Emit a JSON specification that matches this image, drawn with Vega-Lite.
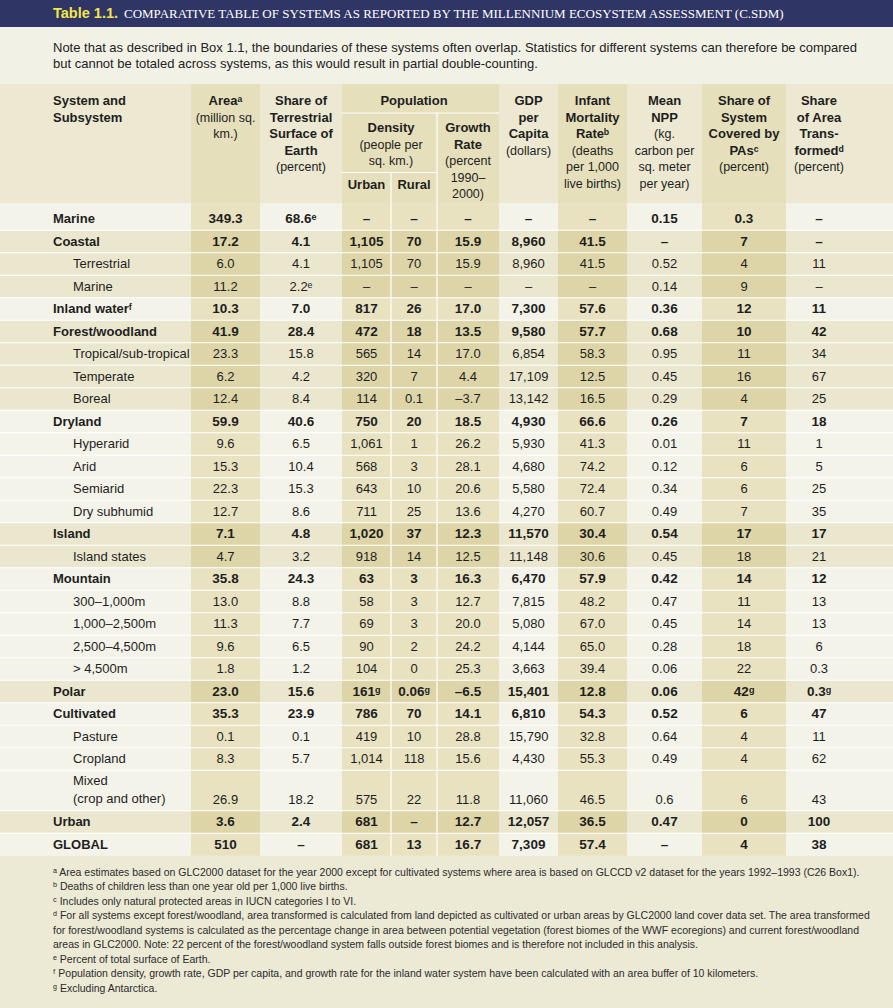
{
  "$schema": "https://vega.github.io/schema/vega-lite/v6.json",
  "width": 893,
  "height": 1008,
  "padding": 0,
  "autosize": {"type": "none"},
  "background": "#f2f1e6",
  "config": {"view": {"stroke": null}},
  "datasets": {
    "rows": [
      {"sys": "Marine", "grp": "Marine", "lvl": "main", "area": "349.3", "share": "68.6ᵉ", "urban": "–", "rural": "–", "growth": "–", "gdp": "–", "infant": "–", "npp": "0.15", "pas": "0.3", "trans": "–"},
      {"sys": "Coastal", "grp": "Coastal", "lvl": "main", "area": "17.2", "share": "4.1", "urban": "1,105", "rural": "70", "growth": "15.9", "gdp": "8,960", "infant": "41.5", "npp": "–", "pas": "7", "trans": "–"},
      {"sys": "Terrestrial", "grp": "Coastal", "lvl": "sub", "area": "6.0", "share": "4.1", "urban": "1,105", "rural": "70", "growth": "15.9", "gdp": "8,960", "infant": "41.5", "npp": "0.52", "pas": "4", "trans": "11"},
      {"sys": "Marine", "grp": "Coastal", "lvl": "sub", "area": "11.2", "share": "2.2ᵉ", "urban": "–", "rural": "–", "growth": "–", "gdp": "–", "infant": "–", "npp": "0.14", "pas": "9", "trans": "–"},
      {"sys": "Inland waterᶠ", "grp": "Inland water", "lvl": "main", "area": "10.3", "share": "7.0", "urban": "817", "rural": "26", "growth": "17.0", "gdp": "7,300", "infant": "57.6", "npp": "0.36", "pas": "12", "trans": "11"},
      {"sys": "Forest/woodland", "grp": "Forest/woodland", "lvl": "main", "area": "41.9", "share": "28.4", "urban": "472", "rural": "18", "growth": "13.5", "gdp": "9,580", "infant": "57.7", "npp": "0.68", "pas": "10", "trans": "42"},
      {"sys": "Tropical/sub-tropical", "grp": "Forest/woodland", "lvl": "sub", "area": "23.3", "share": "15.8", "urban": "565", "rural": "14", "growth": "17.0", "gdp": "6,854", "infant": "58.3", "npp": "0.95", "pas": "11", "trans": "34"},
      {"sys": "Temperate", "grp": "Forest/woodland", "lvl": "sub", "area": "6.2", "share": "4.2", "urban": "320", "rural": "7", "growth": "4.4", "gdp": "17,109", "infant": "12.5", "npp": "0.45", "pas": "16", "trans": "67"},
      {"sys": "Boreal", "grp": "Forest/woodland", "lvl": "sub", "area": "12.4", "share": "8.4", "urban": "114", "rural": "0.1", "growth": "–3.7", "gdp": "13,142", "infant": "16.5", "npp": "0.29", "pas": "4", "trans": "25"},
      {"sys": "Dryland", "grp": "Dryland", "lvl": "main", "area": "59.9", "share": "40.6", "urban": "750", "rural": "20", "growth": "18.5", "gdp": "4,930", "infant": "66.6", "npp": "0.26", "pas": "7", "trans": "18"},
      {"sys": "Hyperarid", "grp": "Dryland", "lvl": "sub", "area": "9.6", "share": "6.5", "urban": "1,061", "rural": "1", "growth": "26.2", "gdp": "5,930", "infant": "41.3", "npp": "0.01", "pas": "11", "trans": "1"},
      {"sys": "Arid", "grp": "Dryland", "lvl": "sub", "area": "15.3", "share": "10.4", "urban": "568", "rural": "3", "growth": "28.1", "gdp": "4,680", "infant": "74.2", "npp": "0.12", "pas": "6", "trans": "5"},
      {"sys": "Semiarid", "grp": "Dryland", "lvl": "sub", "area": "22.3", "share": "15.3", "urban": "643", "rural": "10", "growth": "20.6", "gdp": "5,580", "infant": "72.4", "npp": "0.34", "pas": "6", "trans": "25"},
      {"sys": "Dry subhumid", "grp": "Dryland", "lvl": "sub", "area": "12.7", "share": "8.6", "urban": "711", "rural": "25", "growth": "13.6", "gdp": "4,270", "infant": "60.7", "npp": "0.49", "pas": "7", "trans": "35"},
      {"sys": "Island", "grp": "Island", "lvl": "main", "area": "7.1", "share": "4.8", "urban": "1,020", "rural": "37", "growth": "12.3", "gdp": "11,570", "infant": "30.4", "npp": "0.54", "pas": "17", "trans": "17"},
      {"sys": "Island states", "grp": "Island", "lvl": "sub", "area": "4.7", "share": "3.2", "urban": "918", "rural": "14", "growth": "12.5", "gdp": "11,148", "infant": "30.6", "npp": "0.45", "pas": "18", "trans": "21"},
      {"sys": "Mountain", "grp": "Mountain", "lvl": "main", "area": "35.8", "share": "24.3", "urban": "63", "rural": "3", "growth": "16.3", "gdp": "6,470", "infant": "57.9", "npp": "0.42", "pas": "14", "trans": "12"},
      {"sys": "300–1,000m", "grp": "Mountain", "lvl": "sub", "area": "13.0", "share": "8.8", "urban": "58", "rural": "3", "growth": "12.7", "gdp": "7,815", "infant": "48.2", "npp": "0.47", "pas": "11", "trans": "13"},
      {"sys": "1,000–2,500m", "grp": "Mountain", "lvl": "sub", "area": "11.3", "share": "7.7", "urban": "69", "rural": "3", "growth": "20.0", "gdp": "5,080", "infant": "67.0", "npp": "0.45", "pas": "14", "trans": "13"},
      {"sys": "2,500–4,500m", "grp": "Mountain", "lvl": "sub", "area": "9.6", "share": "6.5", "urban": "90", "rural": "2", "growth": "24.2", "gdp": "4,144", "infant": "65.0", "npp": "0.28", "pas": "18", "trans": "6"},
      {"sys": "> 4,500m", "grp": "Mountain", "lvl": "sub", "area": "1.8", "share": "1.2", "urban": "104", "rural": "0", "growth": "25.3", "gdp": "3,663", "infant": "39.4", "npp": "0.06", "pas": "22", "trans": "0.3"},
      {"sys": "Polar", "grp": "Polar", "lvl": "main", "area": "23.0", "share": "15.6", "urban": "161ᵍ", "rural": "0.06ᵍ", "growth": "–6.5", "gdp": "15,401", "infant": "12.8", "npp": "0.06", "pas": "42ᵍ", "trans": "0.3ᵍ"},
      {"sys": "Cultivated", "grp": "Cultivated", "lvl": "main", "area": "35.3", "share": "23.9", "urban": "786", "rural": "70", "growth": "14.1", "gdp": "6,810", "infant": "54.3", "npp": "0.52", "pas": "6", "trans": "47"},
      {"sys": "Pasture", "grp": "Cultivated", "lvl": "sub", "area": "0.1", "share": "0.1", "urban": "419", "rural": "10", "growth": "28.8", "gdp": "15,790", "infant": "32.8", "npp": "0.64", "pas": "4", "trans": "11"},
      {"sys": "Cropland", "grp": "Cultivated", "lvl": "sub", "area": "8.3", "share": "5.7", "urban": "1,014", "rural": "118", "growth": "15.6", "gdp": "4,430", "infant": "55.3", "npp": "0.49", "pas": "4", "trans": "62"},
      {"sys": "Mixed\n(crop and other)", "grp": "Cultivated", "lvl": "sub", "area": "26.9", "share": "18.2", "urban": "575", "rural": "22", "growth": "11.8", "gdp": "11,060", "infant": "46.5", "npp": "0.6", "pas": "6", "trans": "43"},
      {"sys": "Urban", "grp": "Urban", "lvl": "main", "area": "3.6", "share": "2.4", "urban": "681", "rural": "–", "growth": "12.7", "gdp": "12,057", "infant": "36.5", "npp": "0.47", "pas": "0", "trans": "100"},
      {"sys": "GLOBAL", "grp": "GLOBAL", "lvl": "main", "area": "510", "share": "–", "urban": "681", "rural": "13", "growth": "16.7", "gdp": "7,309", "infant": "57.4", "npp": "–", "pas": "4", "trans": "38"}
    ],
    "cols": [
      {"key": "area", "k": 3, "shade": 1},
      {"key": "share", "k": 4, "shade": 0},
      {"key": "urban", "k": 5, "shade": 1},
      {"key": "rural", "k": 6, "shade": 1},
      {"key": "growth", "k": 7, "shade": 1},
      {"key": "gdp", "k": 8, "shade": 0},
      {"key": "infant", "k": 9, "shade": 1},
      {"key": "npp", "k": 10, "shade": 0},
      {"key": "pas", "k": 11, "shade": 1},
      {"key": "trans", "k": 12, "shade": 0}
    ],
    "sections": [
      {"sec": "title", "s": -3},
      {"sec": "header", "s": -1},
      {"sec": "foot", "s": 28}
    ],
    "grid": [
      {"c0": 5, "c1": 8, "r0": -0.75, "r1": -0.75},
      {"c0": 5, "c1": 7, "r0": -0.25, "r1": -0.25},
      {"c0": 7, "c1": 7, "r0": -0.75, "r1": 28},
      {"c0": 6, "c1": 6, "r0": -0.25, "r1": 28}
    ],
    "title": [
      {"part": 1, "txt": "Table 1.1."},
      {"part": 2, "txt": "COMPARATIVE TABLE OF SYSTEMS AS REPORTED BY THE MILLENNIUM ECOSYSTEM ASSESSMENT (C.SDM)"}
    ],
    "note": [
      {"txt": "Note that as described in Box 1.1, the boundaries of these systems often overlap. Statistics for different systems can therefore be compared\nbut cannot be totaled across systems, as this would result in partial double-counting."}
    ],
    "foot": [
      {"txt": "ᵃ Area estimates based on GLC2000 dataset for the year 2000 except for cultivated systems where area is based on GLCCD v2 dataset for the years 1992–1993 (C26 Box1).\nᵇ Deaths of children less than one year old per 1,000 live births.\nᶜ Includes only natural protected areas in IUCN categories I to VI.\nᵈ For all systems except forest/woodland, area transformed is calculated from land depicted as cultivated or urban areas by GLC2000 land cover data set. The area transformed\n\u00a0\u00a0for forest/woodland systems is calculated as the percentage change in area between potential vegetation (forest biomes of the WWF ecoregions) and current forest/woodland\n\u00a0\u00a0areas in GLC2000. Note: 22 percent of the forest/woodland system falls outside forest biomes and is therefore not included in this analysis.\nᵉ Percent of total surface of Earth.\nᶠ Population density, growth rate, GDP per capita, and growth rate for the inland water system have been calculated with an area buffer of 10 kilometers.\nᵍ Excluding Antarctica."}
    ],
    "hdr": [
      {"t": 0, "ln": 0, "c0": 1, "c1": 1, "txt": "System and", "b": 1, "sys": 1},
      {"t": 0, "ln": 1, "c0": 1, "c1": 1, "txt": "Subsystem", "b": 1, "sys": 1},
      {"t": 0, "ln": 0, "c0": 3, "c1": 4, "txt": "Areaᵃ", "b": 1, "sys": 0},
      {"t": 0, "ln": 1, "c0": 3, "c1": 4, "txt": "(million sq.", "b": 0, "sys": 0},
      {"t": 0, "ln": 2, "c0": 3, "c1": 4, "txt": "km.)", "b": 0, "sys": 0},
      {"t": 0, "ln": 0, "c0": 4, "c1": 5, "txt": "Share of", "b": 1, "sys": 0},
      {"t": 0, "ln": 1, "c0": 4, "c1": 5, "txt": "Terrestrial", "b": 1, "sys": 0},
      {"t": 0, "ln": 2, "c0": 4, "c1": 5, "txt": "Surface of", "b": 1, "sys": 0},
      {"t": 0, "ln": 3, "c0": 4, "c1": 5, "txt": "Earth", "b": 1, "sys": 0},
      {"t": 0, "ln": 4, "c0": 4, "c1": 5, "txt": "(percent)", "b": 0, "sys": 0},
      {"t": 0, "ln": 0, "c0": 5, "c1": 8, "txt": "Population", "b": 1, "sys": 0},
      {"t": 1, "ln": 0, "c0": 5, "c1": 7, "txt": "Density", "b": 1, "sys": 0},
      {"t": 1, "ln": 1, "c0": 5, "c1": 7, "txt": "(people per", "b": 0, "sys": 0},
      {"t": 1, "ln": 2, "c0": 5, "c1": 7, "txt": "sq. km.)", "b": 0, "sys": 0},
      {"t": 1, "ln": 0, "c0": 7, "c1": 8, "txt": "Growth", "b": 1, "sys": 0},
      {"t": 1, "ln": 1, "c0": 7, "c1": 8, "txt": "Rate", "b": 1, "sys": 0},
      {"t": 1, "ln": 2, "c0": 7, "c1": 8, "txt": "(percent", "b": 0, "sys": 0},
      {"t": 1, "ln": 3, "c0": 7, "c1": 8, "txt": "1990–", "b": 0, "sys": 0},
      {"t": 1, "ln": 4, "c0": 7, "c1": 8, "txt": "2000)", "b": 0, "sys": 0},
      {"t": 2, "ln": 0, "c0": 5, "c1": 6, "txt": "Urban", "b": 1, "sys": 0},
      {"t": 2, "ln": 0, "c0": 6, "c1": 7, "txt": "Rural", "b": 1, "sys": 0},
      {"t": 0, "ln": 0, "c0": 8, "c1": 9, "txt": "GDP", "b": 1, "sys": 0},
      {"t": 0, "ln": 1, "c0": 8, "c1": 9, "txt": "per", "b": 1, "sys": 0},
      {"t": 0, "ln": 2, "c0": 8, "c1": 9, "txt": "Capita", "b": 1, "sys": 0},
      {"t": 0, "ln": 3, "c0": 8, "c1": 9, "txt": "(dollars)", "b": 0, "sys": 0},
      {"t": 0, "ln": 0, "c0": 9, "c1": 10, "txt": "Infant", "b": 1, "sys": 0},
      {"t": 0, "ln": 1, "c0": 9, "c1": 10, "txt": "Mortality", "b": 1, "sys": 0},
      {"t": 0, "ln": 2, "c0": 9, "c1": 10, "txt": "Rateᵇ", "b": 1, "sys": 0},
      {"t": 0, "ln": 3, "c0": 9, "c1": 10, "txt": "(deaths", "b": 0, "sys": 0},
      {"t": 0, "ln": 4, "c0": 9, "c1": 10, "txt": "per 1,000", "b": 0, "sys": 0},
      {"t": 0, "ln": 5, "c0": 9, "c1": 10, "txt": "live births)", "b": 0, "sys": 0},
      {"t": 0, "ln": 0, "c0": 10, "c1": 11, "txt": "Mean", "b": 1, "sys": 0},
      {"t": 0, "ln": 1, "c0": 10, "c1": 11, "txt": "NPP", "b": 1, "sys": 0},
      {"t": 0, "ln": 2, "c0": 10, "c1": 11, "txt": "(kg.", "b": 0, "sys": 0},
      {"t": 0, "ln": 3, "c0": 10, "c1": 11, "txt": "carbon per", "b": 0, "sys": 0},
      {"t": 0, "ln": 4, "c0": 10, "c1": 11, "txt": "sq. meter", "b": 0, "sys": 0},
      {"t": 0, "ln": 5, "c0": 10, "c1": 11, "txt": "per year)", "b": 0, "sys": 0},
      {"t": 0, "ln": 0, "c0": 11, "c1": 12, "txt": "Share of", "b": 1, "sys": 0},
      {"t": 0, "ln": 1, "c0": 11, "c1": 12, "txt": "System", "b": 1, "sys": 0},
      {"t": 0, "ln": 2, "c0": 11, "c1": 12, "txt": "Covered by", "b": 1, "sys": 0},
      {"t": 0, "ln": 3, "c0": 11, "c1": 12, "txt": "PAsᶜ", "b": 1, "sys": 0},
      {"t": 0, "ln": 4, "c0": 11, "c1": 12, "txt": "(percent)", "b": 0, "sys": 0},
      {"t": 0, "ln": 0, "c0": 12, "c1": 13, "txt": "Share", "b": 1, "sys": 0},
      {"t": 0, "ln": 1, "c0": 12, "c1": 13, "txt": "of Area", "b": 1, "sys": 0},
      {"t": 0, "ln": 2, "c0": 12, "c1": 13, "txt": "Trans-", "b": 1, "sys": 0},
      {"t": 0, "ln": 3, "c0": 12, "c1": 13, "txt": "formedᵈ", "b": 1, "sys": 0},
      {"t": 0, "ln": 4, "c0": 12, "c1": 13, "txt": "(percent)", "b": 0, "sys": 0}
    ]
  },
  "resolve": {"scale": {"y": "independent", "color": "independent"}},
  "layer": [
    {
      "data": {"name": "sections"},
      "transform": [{"calculate": "datum.s + 1", "as": "s1"}],
      "mark": {"type": "rect"},
      "encoding": {
        "x": {"datum": 0, "type": "quantitative", "axis": null, "scale": {"domain": [0,1,2,3,4,5,6,7,8,9,10,11,12,13,14], "range": [0,53,73,191,260,342,391,437,499,558,627,702,786,852,893], "nice": false, "zero": false}},
        "x2": {"datum": 14},
        "y": {"field": "s", "type": "quantitative", "axis": null, "scale": {"domain": [-3,-2,-1,-0.75,-0.25,0,1,25,26,28,29], "range": [0,27,84,113,172.5,203,230.25,770.25,810.75,855.75,1008], "nice": false, "zero": false}},
        "y2": {"field": "s1"},
        "color": {"field": "sec", "type": "nominal", "legend": null, "scale": {"domain": ["title", "header", "foot"], "range": ["#2f3564", "#ece8d1", "#ece9d5"]}}
      }
    },
    {
      "data": {"name": "cols"},
      "transform": [{"filter": "datum.shade == 1"}, {"calculate": "datum.k + 1", "as": "k1"}],
      "mark": {"type": "rect", "color": "#e5dfbb"},
      "encoding": {
        "x": {"field": "k", "type": "quantitative", "axis": null, "scale": {"domain": [0,1,2,3,4,5,6,7,8,9,10,11,12,13,14], "range": [0,53,73,191,260,342,391,437,499,558,627,702,786,852,893], "nice": false, "zero": false}},
        "x2": {"field": "k1"},
        "y": {"datum": -1, "type": "quantitative", "axis": null, "scale": {"domain": [-3,-2,-1,-0.75,-0.25,0,1,25,26,28,29], "range": [0,27,84,113,172.5,203,230.25,770.25,810.75,855.75,1008], "nice": false, "zero": false}},
        "y2": {"datum": 0}
      }
    },
    {
      "data": {"name": "rows"},
      "transform": [{"window": [{"op": "row_number", "as": "rn"}]}, {"calculate": "datum.rn - 1", "as": "r0"}],
      "mark": {"type": "rect"},
      "encoding": {
        "x": {"datum": 0, "type": "quantitative", "axis": null, "scale": {"domain": [0,1,2,3,4,5,6,7,8,9,10,11,12,13,14], "range": [0,53,73,191,260,342,391,437,499,558,627,702,786,852,893], "nice": false, "zero": false}},
        "x2": {"datum": 14},
        "y": {"field": "r0", "type": "quantitative", "axis": null, "scale": {"domain": [-3,-2,-1,-0.75,-0.25,0,1,25,26,28,29], "range": [0,27,84,113,172.5,203,230.25,770.25,810.75,855.75,1008], "nice": false, "zero": false}},
        "y2": {"field": "rn"},
        "color": {"field": "grp", "type": "nominal", "legend": null, "scale": {"domain": ["Marine","Coastal","Inland water","Forest/woodland","Dryland","Island","Mountain","Polar","Cultivated","Urban","GLOBAL"], "range": ["#f4f3e9","#ebe7cf","#f4f3e9","#ebe7cf","#f4f3e9","#ebe7cf","#f4f3e9","#ebe7cf","#f4f3e9","#ebe7cf","#f4f3e9"]}}
      }
    },
    {
      "data": {"name": "rows"},
      "transform": [
        {"window": [{"op": "row_number", "as": "rn"}]},
        {"calculate": "datum.rn - 1", "as": "r0"},
        {"fold": ["area","share","urban","rural","growth","gdp","infant","npp","pas","trans"], "as": ["key", "val"]},
        {"lookup": "key", "from": {"data": {"name": "cols"}, "key": "key", "fields": ["k", "shade"]}},
        {"filter": "datum.shade == 1"},
        {"calculate": "datum.k + 1", "as": "k1"}
      ],
      "mark": {"type": "rect"},
      "encoding": {
        "x": {"field": "k", "type": "quantitative", "axis": null, "scale": {"domain": [0,1,2,3,4,5,6,7,8,9,10,11,12,13,14], "range": [0,53,73,191,260,342,391,437,499,558,627,702,786,852,893], "nice": false, "zero": false}},
        "x2": {"field": "k1"},
        "y": {"field": "r0", "type": "quantitative", "axis": null, "scale": {"domain": [-3,-2,-1,-0.75,-0.25,0,1,25,26,28,29], "range": [0,27,84,113,172.5,203,230.25,770.25,810.75,855.75,1008], "nice": false, "zero": false}},
        "y2": {"field": "rn"},
        "color": {"field": "grp", "type": "nominal", "legend": null, "scale": {"domain": ["Marine","Coastal","Inland water","Forest/woodland","Dryland","Island","Mountain","Polar","Cultivated","Urban","GLOBAL"], "range": ["#e8e2c1","#ddd5a7","#e8e2c1","#ddd5a7","#e8e2c1","#ddd5a7","#e8e2c1","#ddd5a7","#e8e2c1","#ddd5a7","#e8e2c1"]}}
      }
    },
    {
      "data": {"name": "rows"},
      "transform": [{"window": [{"op": "row_number", "as": "rn"}]}, {"filter": "datum.rn >= 2"}, {"calculate": "datum.rn - 1", "as": "r0"}],
      "mark": {"type": "rule", "color": "#ffffff", "strokeWidth": 1.2},
      "encoding": {
        "x": {"datum": 0, "type": "quantitative", "axis": null, "scale": {"domain": [0,1,2,3,4,5,6,7,8,9,10,11,12,13,14], "range": [0,53,73,191,260,342,391,437,499,558,627,702,786,852,893], "nice": false, "zero": false}},
        "x2": {"datum": 14},
        "y": {"field": "r0", "type": "quantitative", "axis": null, "scale": {"domain": [-3,-2,-1,-0.75,-0.25,0,1,25,26,28,29], "range": [0,27,84,113,172.5,203,230.25,770.25,810.75,855.75,1008], "nice": false, "zero": false}}
      }
    },
    {
      "data": {"name": "grid"},
      "mark": {"type": "rule", "color": "#ffffff", "strokeWidth": 1.2},
      "encoding": {
        "x": {"field": "c0", "type": "quantitative", "axis": null, "scale": {"domain": [0,1,2,3,4,5,6,7,8,9,10,11,12,13,14], "range": [0,53,73,191,260,342,391,437,499,558,627,702,786,852,893], "nice": false, "zero": false}},
        "x2": {"field": "c1"},
        "y": {"field": "r0", "type": "quantitative", "axis": null, "scale": {"domain": [-3,-2,-1,-0.75,-0.25,0,1,25,26,28,29], "range": [0,27,84,113,172.5,203,230.25,770.25,810.75,855.75,1008], "nice": false, "zero": false}},
        "y2": {"field": "r1"}
      }
    },
    {
      "data": {"name": "title"},
      "transform": [{"filter": "datum.part == 1"}],
      "mark": {"type": "text", "align": "left", "baseline": "middle", "font": "Liberation Sans", "fontWeight": "bold", "fontSize": 14.5, "color": "#f3e64b"},
      "encoding": {
        "x": {"datum": 1, "type": "quantitative", "axis": null, "scale": {"domain": [0,1,2,3,4,5,6,7,8,9,10,11,12,13,14], "range": [0,53,73,191,260,342,391,437,499,558,627,702,786,852,893], "nice": false, "zero": false}},
        "y": {"datum": -2.5, "type": "quantitative", "axis": null, "scale": {"domain": [-3,-2,-1,-0.75,-0.25,0,1,25,26,28,29], "range": [0,27,84,113,172.5,203,230.25,770.25,810.75,855.75,1008], "nice": false, "zero": false}},
        "text": {"field": "txt", "type": "nominal"}
      }
    },
    {
      "data": {"name": "title"},
      "transform": [{"filter": "datum.part == 2"}],
      "mark": {"type": "text", "align": "left", "baseline": "middle", "dx": 71, "font": "Liberation Serif", "fontSize": 13, "color": "#ffffff"},
      "encoding": {
        "x": {"datum": 1, "type": "quantitative", "axis": null, "scale": {"domain": [0,1,2,3,4,5,6,7,8,9,10,11,12,13,14], "range": [0,53,73,191,260,342,391,437,499,558,627,702,786,852,893], "nice": false, "zero": false}},
        "y": {"datum": -2.5, "type": "quantitative", "axis": null, "scale": {"domain": [-3,-2,-1,-0.75,-0.25,0,1,25,26,28,29], "range": [0,27,84,113,172.5,203,230.25,770.25,810.75,855.75,1008], "nice": false, "zero": false}},
        "text": {"field": "txt", "type": "nominal"}
      }
    },
    {
      "data": {"name": "note"},
      "mark": {"type": "text", "align": "left", "baseline": "middle", "dy": 20.5, "lineBreak": "\n", "lineHeight": 16, "font": "Liberation Sans", "fontSize": 13, "color": "#222222"},
      "encoding": {
        "x": {"datum": 1, "type": "quantitative", "axis": null, "scale": {"domain": [0,1,2,3,4,5,6,7,8,9,10,11,12,13,14], "range": [0,53,73,191,260,342,391,437,499,558,627,702,786,852,893], "nice": false, "zero": false}},
        "y": {"datum": -2, "type": "quantitative", "axis": null, "scale": {"domain": [-3,-2,-1,-0.75,-0.25,0,1,25,26,28,29], "range": [0,27,84,113,172.5,203,230.25,770.25,810.75,855.75,1008], "nice": false, "zero": false}},
        "text": {"field": "txt", "type": "nominal"}
      }
    },
    {
      "data": {"name": "hdr"},
      "transform": [{"filter": "datum.sys == 1"}, {"calculate": "datum.t * 10 + datum.ln", "as": "slot"}],
      "mark": {"type": "text", "align": "left", "baseline": "middle", "font": "Liberation Sans", "fontWeight": "bold", "fontSize": 13, "color": "#1e1e1e"},
      "encoding": {
        "x": {"field": "c0", "type": "quantitative", "axis": null, "scale": {"domain": [0,1,2,3,4,5,6,7,8,9,10,11,12,13,14], "range": [0,53,73,191,260,342,391,437,499,558,627,702,786,852,893], "nice": false, "zero": false}},
        "y": {"field": "slot", "type": "quantitative", "axis": null, "scale": {"domain": [0,5,10,14,20], "range": [101,183.5,128,194,185], "nice": false, "zero": false}},
        "text": {"field": "txt", "type": "nominal"}
      }
    },
    {
      "data": {"name": "hdr"},
      "transform": [{"filter": "datum.sys == 0 && datum.b == 1"}, {"calculate": "datum.t * 10 + datum.ln", "as": "slot"}, {"calculate": "(datum.c0 + datum.c1) / 2", "as": "xc"}],
      "mark": {"type": "text", "align": "center", "baseline": "middle", "font": "Liberation Sans", "fontWeight": "bold", "fontSize": 13, "color": "#1e1e1e"},
      "encoding": {
        "x": {"field": "xc", "type": "quantitative", "axis": null, "scale": {"domain": [0,1,2,3,4,5,6,7,8,9,10,11,12,13,14], "range": [0,53,73,191,260,342,391,437,499,558,627,702,786,852,893], "nice": false, "zero": false}},
        "y": {"field": "slot", "type": "quantitative", "axis": null, "scale": {"domain": [0,5,10,14,20], "range": [101,183.5,128,194,185], "nice": false, "zero": false}},
        "text": {"field": "txt", "type": "nominal"}
      }
    },
    {
      "data": {"name": "hdr"},
      "transform": [{"filter": "datum.sys == 0 && datum.b == 0"}, {"calculate": "datum.t * 10 + datum.ln", "as": "slot"}, {"calculate": "(datum.c0 + datum.c1) / 2", "as": "xc"}],
      "mark": {"type": "text", "align": "center", "baseline": "middle", "font": "Liberation Sans", "fontSize": 12.5, "color": "#1e1e1e"},
      "encoding": {
        "x": {"field": "xc", "type": "quantitative", "axis": null, "scale": {"domain": [0,1,2,3,4,5,6,7,8,9,10,11,12,13,14], "range": [0,53,73,191,260,342,391,437,499,558,627,702,786,852,893], "nice": false, "zero": false}},
        "y": {"field": "slot", "type": "quantitative", "axis": null, "scale": {"domain": [0,5,10,14,20], "range": [101,183.5,128,194,185], "nice": false, "zero": false}},
        "text": {"field": "txt", "type": "nominal"}
      }
    },
    {
      "data": {"name": "rows"},
      "transform": [{"window": [{"op": "row_number", "as": "rn"}]}, {"filter": "datum.lvl == 'main'"}],
      "mark": {"type": "text", "align": "left", "baseline": "line-bottom", "lineHeight": 22.5, "font": "Liberation Sans", "fontWeight": "bold", "fontSize": 13, "color": "#1e1e1e"},
      "encoding": {
        "x": {"datum": 1, "type": "quantitative", "axis": null, "scale": {"domain": [0,1,2,3,4,5,6,7,8,9,10,11,12,13,14], "range": [0,53,73,191,260,342,391,437,499,558,627,702,786,852,893], "nice": false, "zero": false}},
        "y": {"field": "rn", "type": "quantitative", "axis": null, "scale": {"domain": [-3,-2,-1,-0.75,-0.25,0,1,25,26,28,29], "range": [0,27,84,113,172.5,203,230.25,770.25,810.75,855.75,1008], "nice": false, "zero": false}},
        "text": {"field": "sys", "type": "nominal"}
      }
    },
    {
      "data": {"name": "rows"},
      "transform": [{"window": [{"op": "row_number", "as": "rn"}]}, {"filter": "datum.lvl == 'sub' && indexof(datum.sys, '\\n') < 0"}],
      "mark": {"type": "text", "align": "left", "baseline": "line-bottom", "lineHeight": 22.5, "font": "Liberation Sans", "fontSize": 13, "color": "#1e1e1e"},
      "encoding": {
        "x": {"datum": 2, "type": "quantitative", "axis": null, "scale": {"domain": [0,1,2,3,4,5,6,7,8,9,10,11,12,13,14], "range": [0,53,73,191,260,342,391,437,499,558,627,702,786,852,893], "nice": false, "zero": false}},
        "y": {"field": "rn", "type": "quantitative", "axis": null, "scale": {"domain": [-3,-2,-1,-0.75,-0.25,0,1,25,26,28,29], "range": [0,27,84,113,172.5,203,230.25,770.25,810.75,855.75,1008], "nice": false, "zero": false}},
        "text": {"field": "sys", "type": "nominal"}
      }
    },
    {
      "data": {"name": "rows"},
      "transform": [{"window": [{"op": "row_number", "as": "rn"}]}, {"filter": "datum.lvl == 'sub' && indexof(datum.sys, '\\n') >= 0"}, {"calculate": "datum.rn - 1", "as": "r0"}],
      "mark": {"type": "text", "align": "left", "baseline": "line-top", "lineHeight": 18, "dy": 2, "lineBreak": "\n", "font": "Liberation Sans", "fontSize": 13, "color": "#1e1e1e"},
      "encoding": {
        "x": {"datum": 2, "type": "quantitative", "axis": null, "scale": {"domain": [0,1,2,3,4,5,6,7,8,9,10,11,12,13,14], "range": [0,53,73,191,260,342,391,437,499,558,627,702,786,852,893], "nice": false, "zero": false}},
        "y": {"field": "r0", "type": "quantitative", "axis": null, "scale": {"domain": [-3,-2,-1,-0.75,-0.25,0,1,25,26,28,29], "range": [0,27,84,113,172.5,203,230.25,770.25,810.75,855.75,1008], "nice": false, "zero": false}},
        "text": {"field": "sys", "type": "nominal"}
      }
    },
    {
      "data": {"name": "rows"},
      "transform": [
        {"window": [{"op": "row_number", "as": "rn"}]},
        {"filter": "datum.lvl == 'main'"},
        {"fold": ["area","share","urban","rural","growth","gdp","infant","npp","pas","trans"], "as": ["key", "val"]},
        {"lookup": "key", "from": {"data": {"name": "cols"}, "key": "key", "fields": ["k", "shade"]}},
        {"calculate": "datum.k + 0.5", "as": "xc"}
      ],
      "mark": {"type": "text", "align": "center", "baseline": "line-bottom", "lineHeight": 22.5, "font": "Liberation Sans", "fontWeight": "bold", "fontSize": 13.5, "color": "#1e1e1e"},
      "encoding": {
        "x": {"field": "xc", "type": "quantitative", "axis": null, "scale": {"domain": [0,1,2,3,4,5,6,7,8,9,10,11,12,13,14], "range": [0,53,73,191,260,342,391,437,499,558,627,702,786,852,893], "nice": false, "zero": false}},
        "y": {"field": "rn", "type": "quantitative", "axis": null, "scale": {"domain": [-3,-2,-1,-0.75,-0.25,0,1,25,26,28,29], "range": [0,27,84,113,172.5,203,230.25,770.25,810.75,855.75,1008], "nice": false, "zero": false}},
        "text": {"field": "val", "type": "nominal"}
      }
    },
    {
      "data": {"name": "rows"},
      "transform": [
        {"window": [{"op": "row_number", "as": "rn"}]},
        {"filter": "datum.lvl == 'sub'"},
        {"fold": ["area","share","urban","rural","growth","gdp","infant","npp","pas","trans"], "as": ["key", "val"]},
        {"lookup": "key", "from": {"data": {"name": "cols"}, "key": "key", "fields": ["k", "shade"]}},
        {"calculate": "datum.k + 0.5", "as": "xc"}
      ],
      "mark": {"type": "text", "align": "center", "baseline": "line-bottom", "lineHeight": 22.5, "font": "Liberation Sans", "fontSize": 13, "color": "#1e1e1e"},
      "encoding": {
        "x": {"field": "xc", "type": "quantitative", "axis": null, "scale": {"domain": [0,1,2,3,4,5,6,7,8,9,10,11,12,13,14], "range": [0,53,73,191,260,342,391,437,499,558,627,702,786,852,893], "nice": false, "zero": false}},
        "y": {"field": "rn", "type": "quantitative", "axis": null, "scale": {"domain": [-3,-2,-1,-0.75,-0.25,0,1,25,26,28,29], "range": [0,27,84,113,172.5,203,230.25,770.25,810.75,855.75,1008], "nice": false, "zero": false}},
        "text": {"field": "val", "type": "nominal"}
      }
    },
    {
      "data": {"name": "foot"},
      "mark": {"type": "text", "align": "left", "baseline": "middle", "dy": 17, "lineBreak": "\n", "lineHeight": 14.5, "font": "Liberation Sans", "fontSize": 10.5, "color": "#2b2b2b"},
      "encoding": {
        "x": {"datum": 1, "type": "quantitative", "axis": null, "scale": {"domain": [0,1,2,3,4,5,6,7,8,9,10,11,12,13,14], "range": [0,53,73,191,260,342,391,437,499,558,627,702,786,852,893], "nice": false, "zero": false}},
        "y": {"datum": 28, "type": "quantitative", "axis": null, "scale": {"domain": [-3,-2,-1,-0.75,-0.25,0,1,25,26,28,29], "range": [0,27,84,113,172.5,203,230.25,770.25,810.75,855.75,1008], "nice": false, "zero": false}},
        "text": {"field": "txt", "type": "nominal"}
      }
    }
  ]
}
